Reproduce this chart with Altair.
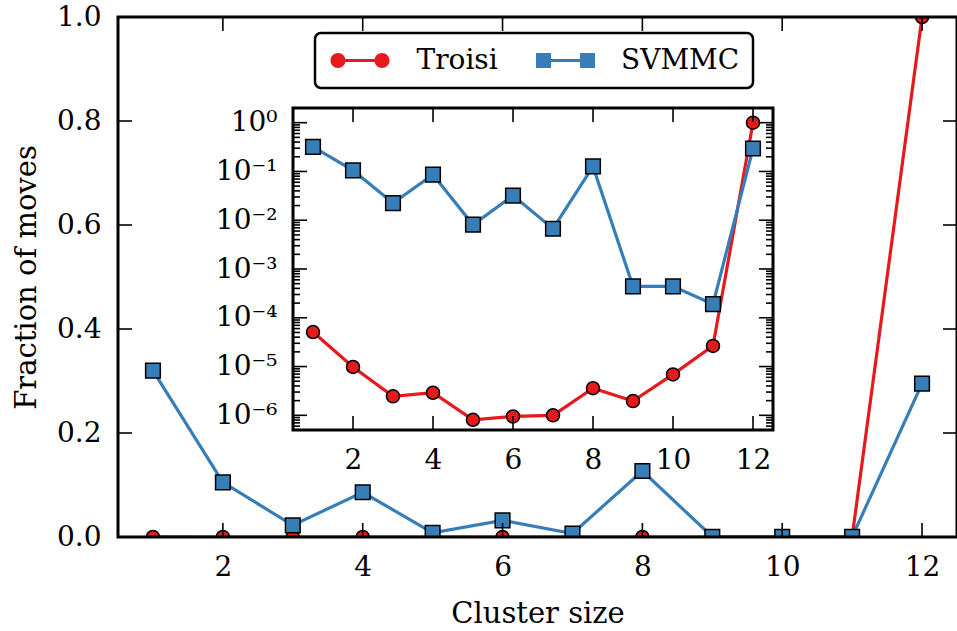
import altair as alt
import pandas as pd

# ---------------- data ----------------
cluster_sizes = [1, 2, 3, 4, 5, 6, 7, 8, 9, 10, 11, 12]
troisi = [5.1e-5, 9.8e-6, 2.45e-6, 2.9e-6, 8.1e-7, 9.5e-7, 1.0e-6, 3.6e-6,
          1.96e-6, 6.9e-6, 2.65e-5, 0.99992]
svmmc = [0.32, 0.105, 0.0225, 0.086, 0.0081, 0.032, 0.0067, 0.127,
         4.4e-4, 4.4e-4, 1.9e-4, 0.295]
series_names = ["Troisi", "SVMMC"]
series_colors = ["#e41a1c", "#377eb8"]

main_x_ticks = [2, 4, 6, 8, 10, 12]
main_y_ticks = [0.0, 0.2, 0.4, 0.6, 0.8, 1.0]
inset_x_ticks = [2, 4, 6, 8, 10, 12]
inset_y_ticks = [1.0, 1e-1, 1e-2, 1e-3, 1e-4, 1e-5, 1e-6]
inset_y_labels = ["10⁰", "10⁻¹", "10⁻²", "10⁻³", "10⁻⁴", "10⁻⁵", "10⁻⁶"]
inset_y_minor = [m * 10.0 ** e for e in range(-7, 1) for m in range(2, 10)
                 if 5e-7 < m * 10.0 ** e < 2]

df = pd.DataFrame({
    "size": cluster_sizes * 2,
    "value": troisi + svmmc,
    "series": ["Troisi"] * len(troisi) + ["SVMMC"] * len(svmmc),
})

FONT = "DejaVu Serif"
FS = 28
shapes = {"Troisi": ("circle", 170), "SVMMC": ("square", 215)}

# legend symbol paths (unit = sqrt(400)/2 = 10 px)
LINE_PATH = "M-2.2,0L2.2,0"
CIRCLE_PAIR = ("M-2.95,0A0.75,0.75,0,1,1,-1.45,0A0.75,0.75,0,1,1,-2.95,0Z"
               "M1.45,0A0.75,0.75,0,1,1,2.95,0A0.75,0.75,0,1,1,1.45,0Z")
SQUARE_PAIR = ("M-2.95,-0.75H-1.45V0.75H-2.95Z"
               "M1.45,-0.75H2.95V0.75H1.45Z")

MX = alt.Scale(domain=[0.5, 12.5], nice=False, zero=False)
MY = alt.Scale(domain=[0.0, 1.0], nice=False, zero=False)
IX = alt.Scale(domain=[0.5, 12.5], range=[175, 655], nice=False, zero=False)
IY = alt.Scale(type="log", domain=[5e-7, 2.0], range=[413, 91], nice=False)


def data_layers(xs, ys, xaxis, yaxis, clip):
    out = []
    for i, (name, color) in enumerate(zip(series_names, series_colors)):
        shape, size = shapes[name]
        sub = alt.Chart(df).transform_filter(alt.datum.series == name)
        xa = xaxis if i == 0 else None
        ya = yaxis if i == 0 else None
        out.append(sub.mark_line(color=color, strokeWidth=3.2, clip=clip).encode(
            x=alt.X("size:Q", scale=xs, axis=xa),
            y=alt.Y("value:Q", scale=ys, axis=ya)))
        out.append(sub.mark_point(shape=shape, filled=True, fill=color, stroke="black",
                                  strokeWidth=1.5, size=size, opacity=1, clip=clip).encode(
            x=alt.X("size:Q", scale=xs, axis=None),
            y=alt.Y("value:Q", scale=ys, axis=None)))
    return out


def xticks(values, xs, ys, at, offset):
    return alt.Chart(pd.DataFrame({"t": values})).mark_rule(
        color="black", strokeWidth=1.6, y2Offset=offset).encode(
        x=alt.X("t:Q", scale=xs, axis=None),
        y=alt.YDatum(at, scale=ys, axis=None), y2=alt.Y2Datum(at))


def yticks(values, xs, ys, at, offset):
    return alt.Chart(pd.DataFrame({"t": values})).mark_rule(
        color="black", strokeWidth=1.6, x2Offset=offset).encode(
        y=alt.Y("t:Q", scale=ys, axis=None),
        x=alt.XDatum(at, scale=xs, axis=None), x2=alt.X2Datum(at))


def frame(xs, ys, x0, x1, y0, y1, **kw):
    return alt.Chart(alt.Data(values=[{"a": 1}])).mark_rect(
        stroke="black", strokeWidth=3, **kw).encode(
        x=alt.XDatum(x0, scale=xs, axis=None), x2=alt.X2Datum(x1),
        y=alt.YDatum(y0, scale=ys, axis=None), y2=alt.Y2Datum(y1))


# ---------------- main panel ----------------
main_xaxis = alt.Axis(values=main_x_ticks, title="Cluster size", orient="bottom",
                      domain=False, ticks=False, tickSize=0, grid=False,
                      labelPadding=16, titlePadding=18, labelFlush=False)
main_yaxis = alt.Axis(values=main_y_ticks, format=".1f", title="Fraction of moves",
                      orient="left", domain=False, ticks=False, tickSize=0, grid=False,
                      labelPadding=17, titlePadding=15, labelFlush=False)

common_leg = dict(title=None, orient="none", legendX=197, legendY=16,
                  direction="horizontal", padding=13.5, symbolSize=400,
                  labelOffset=42.5, columnPadding=34.5, symbolOffset=17.5,
                  labelFont=FONT, labelFontSize=FS, labelColor="black",
                  symbolOpacity=1)

legA = alt.Chart(df).transform_filter("false").mark_point(
    shape=LINE_PATH, filled=False, strokeWidth=3, opacity=1, size=400).encode(
    x=alt.X("size:Q", scale=MX, axis=None),
    y=alt.Y("value:Q", scale=MY, axis=None),
    stroke=alt.Stroke("series:N", scale=alt.Scale(domain=series_names, range=series_colors),
                      legend=alt.Legend(symbolType=LINE_PATH, symbolStrokeWidth=3,
                                        strokeColor="black", cornerRadius=6,
                                        fillColor="white", zindex=1, **common_leg)))

legB_keys = [n + "_" for n in series_names]
legB_def = alt.Legend(symbolStrokeColor="black", symbolStrokeWidth=1.5,
                      strokeColor="transparent", labelOpacity=0, zindex=2,
                      labelExpr="replace(datum.label, '_', '')", **common_leg)
legB = alt.Chart(df).transform_calculate(key="datum.series + '_'").transform_filter("false").mark_point(
    filled=True, stroke="black", strokeWidth=1.5, opacity=1, size=400).encode(
    x=alt.X("size:Q", scale=MX, axis=None),
    y=alt.Y("value:Q", scale=MY, axis=None),
    fill=alt.Fill("key:N", scale=alt.Scale(domain=legB_keys, range=series_colors), legend=legB_def),
    shape=alt.Shape("key:N", scale=alt.Scale(domain=legB_keys, range=[CIRCLE_PAIR, SQUARE_PAIR]),
                    legend=legB_def))

layers = data_layers(MX, MY, main_xaxis, main_yaxis, True)
layers += [
    frame(MX, MY, 0.5, 12.5, 0.0, 1.0, fillOpacity=0),
    xticks(main_x_ticks, MX, MY, 0.0, -14),
    xticks(main_x_ticks, MX, MY, 1.0, 14),
    yticks(main_y_ticks, MX, MY, 0.5, 14),
    yticks(main_y_ticks, MX, MY, 12.5, -14),
    legA, legB,
]

# ---------------- inset ----------------
label_expr = "[" + ",".join("'%s'" % s for s in inset_y_labels) + "][round(-log(datum.value)/LN10)]"
inset_xaxis = alt.Axis(values=inset_x_ticks, title=None, orient="bottom", offset=-107,
                       domain=False, ticks=False, tickSize=0, grid=False,
                       labelPadding=16, labelFlush=False, labelOverlap=False)
inset_yaxis = alt.Axis(values=inset_y_ticks, title=None, orient="left", offset=-175,
                       domain=False, ticks=False, tickSize=0, grid=False,
                       labelPadding=16, labelFlush=False, labelOverlap=False,
                       labelExpr=label_expr)

layers.append(frame(IX, IY, 0.5, 12.5, 5e-7, 2.0, fill="white"))
layers += data_layers(IX, IY, inset_xaxis, inset_yaxis, False)
layers += [
    xticks(inset_x_ticks, IX, IY, 5e-7, -14),
    xticks(inset_x_ticks, IX, IY, 2.0, 14),
    yticks(inset_y_ticks, IX, IY, 0.5, 14),
    yticks(inset_y_ticks, IX, IY, 12.5, -14),
    yticks(inset_y_minor, IX, IY, 0.5, 7),
    yticks(inset_y_minor, IX, IY, 12.5, -7),
]

chart = alt.layer(*layers).resolve_scale(
    x="independent", y="independent"
).properties(
    width=839, height=520,
    padding={"left": 118, "top": 17, "right": 0, "bottom": 94},
    autosize="none",
    background="white",
).configure_view(strokeWidth=0).configure_axis(
    labelFont=FONT, labelFontSize=FS, labelColor="black",
    titleFont=FONT, titleFontSize=29, titleFontWeight="normal", titleColor="black",
).configure_legend(strokeWidth=2.5)

chart.save("out.html", embed_options={"renderer": "svg", "actions": False})
